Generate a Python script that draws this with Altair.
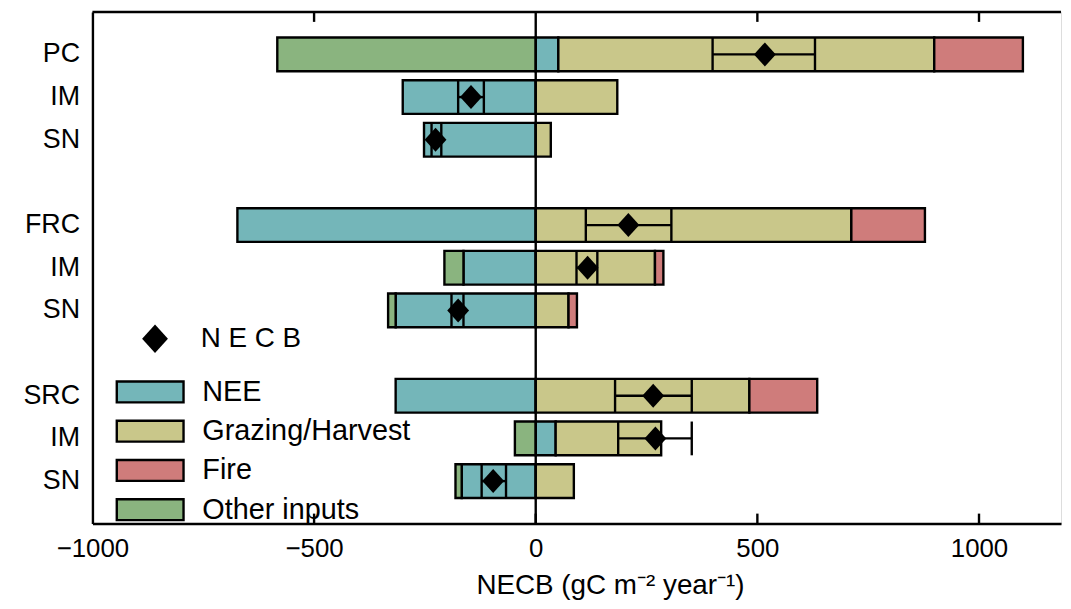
import altair as alt
import pandas as pd

# ---- data ----
row_ids = ["PC", "IM_1", "SN_1", "FRC", "IM_2", "SN_2", "SRC", "IM_3", "SN_3"]
y_domain = ["PC", "IM_1", "SN_1", "gap_1", "FRC", "IM_2", "SN_2", "gap_2", "SRC", "IM_3", "SN_3"]
categories = ["NEE", "Grazing/Harvest", "Fire", "Other inputs"]
colors = ["#74b6b9", "#c9c78a", "#cf7c7b", "#8ab47f"]

nee = [51, -300, -252, -673, -163, -316, -316, 45, -167]
grazing = [848, 184, 34, 712, 269, 74, 482, 238, 86]
fire = [200, 0, 0, 166, 19, 19, 153, 0, 0]
other = [-583, 0, 0, 0, -43, -17, 0, -47, -14]

necb = [517, -146, -226, 209, 117, -175, 265, 270, -96]
necb_lo = [399, -175, -235, 113, 92, -190, 179, 186, -122]
necb_hi = [630, -117, -213, 306, 139, -163, 352, 352, -67]

x_ticks = [-1000, -500, 0, 500, 1000]
bottom_inner_ticks = [-500, 0, 500, 1000]
top_inner_ticks = [-500, 500, 1000]

# ---- tables ----
records = []
for i, r in enumerate(row_ids):
    for k, (cat, vals) in enumerate(zip(categories, [nee, grazing, fire, other])):
        if vals[i] != 0:
            records.append(dict(row=r, cat=cat, value=vals[i], order=k))
bars_df = pd.DataFrame(records)
necb_df = pd.DataFrame(dict(row=row_ids, necb=necb, lo=necb_lo, hi=necb_hi, series="NECB"))
bt_df = pd.DataFrame(dict(t=bottom_inner_ticks))
tt_df = pd.DataFrame(dict(t=top_inner_ticks))
zero_df = pd.DataFrame(dict(t=[0]))

W, H = 975, 515
FONT = "Liberation Sans"
LW = 2.4

xs = alt.Scale(domain=[-1000, 1185], nice=False, zero=False)
ys = alt.Scale(domain=y_domain, paddingInner=0.21, paddingOuter=0.6)

y_axis = alt.Axis(
    labelExpr="slice(datum.value,0,3)=='gap' ? '' : split(datum.value,'_')[0]",
    ticks=False, domainColor="black", domainWidth=LW, labelFontSize=27,
    labelFont=FONT, labelPadding=13, title=None, minExtent=85,
    maxExtent=85, grid=False, labelColor="black",
)
x_axis = alt.Axis(
    values=x_ticks, format="d", ticks=False, labelFontSize=26, labelPadding=12, labelFlush=False,
    domainColor="black", domainWidth=LW, grid=False, title="NECB (gC m\u207b\u00b2 year\u207b\u00b9)",
    titleFontSize=28, titleFontWeight="normal", titleX=521, titlePadding=10,
    labelColor="black", titleColor="black", labelFont=FONT, titleFont=FONT,
)

bars = alt.Chart(bars_df).mark_bar(stroke="black", strokeWidth=LW).encode(
    x=alt.X("value:Q", stack="zero", scale=xs, axis=x_axis),
    y=alt.Y("row:N", scale=ys, axis=y_axis),
    color=alt.Color(
        "cat:N",
        scale=alt.Scale(domain=categories, range=colors),
        legend=alt.Legend(
            title=None, orient="none", legendX=43.6, legendY=368,
            symbolType="M-3.2,-1H3.2V1H-3.2Z", symbolSize=441,
            symbolStrokeColor="black", symbolStrokeWidth=LW, symbolOpacity=1,
            labelFontSize=29, labelOffset=38, rowPadding=8.5, padding=0,
            labelColor="black", labelFont=FONT, labelLimit=0,
        ),
    ),
    order=alt.Order("order:Q"),
)

zero_line = alt.Chart(zero_df).mark_rule(color="black", strokeWidth=LW).encode(x=alt.X("t:Q", scale=xs))
top_line = alt.Chart(zero_df).mark_rule(color="black", strokeWidth=LW).encode(y=alt.value(0))

err_line = alt.Chart(necb_df).mark_rule(color="black", strokeWidth=LW).encode(
    x=alt.X("lo:Q", scale=xs), x2="hi:Q", y=alt.Y("row:N", scale=ys)
)
cap_lo = alt.Chart(necb_df).mark_tick(orient="vertical", size=34, thickness=LW, color="black", opacity=1).encode(
    x=alt.X("lo:Q", scale=xs), y=alt.Y("row:N", scale=ys)
)
cap_hi = alt.Chart(necb_df).mark_tick(orient="vertical", size=34, thickness=LW, color="black", opacity=1).encode(
    x=alt.X("hi:Q", scale=xs), y=alt.Y("row:N", scale=ys)
)
diamond_path = "M0,-1.1L1,0L0,1.1L-1,0Z"
points = alt.Chart(necb_df).mark_point(filled=True, color="black", opacity=1, size=484).encode(
    x=alt.X("necb:Q", scale=xs),
    y=alt.Y("row:N", scale=ys),
    shape=alt.Shape(
        "series:N",
        scale=alt.Scale(domain=["NECB"], range=[diamond_path]),
        legend=alt.Legend(
            title=None, orient="none", legendX=49, legendY=315, symbolSize=676,
            symbolFillColor="black", symbolStrokeColor="black", symbolOpacity=1,
            labelFontSize=28, labelOffset=32, labelExpr="'N E C B'", padding=0,
            labelColor="black", labelFont=FONT,
        ),
    ),
)

bottom_ticks = alt.Chart(bt_df).mark_rule(color="black", strokeWidth=LW).encode(
    x=alt.X("t:Q", scale=xs), y=alt.value(H - 10), y2=alt.value(H)
)
top_ticks = alt.Chart(tt_df).mark_rule(color="black", strokeWidth=LW).encode(
    x=alt.X("t:Q", scale=xs), y=alt.value(0), y2=alt.value(10)
)

chart = alt.layer(
    bars, zero_line, top_line, err_line, cap_lo, cap_hi, points, bottom_ticks, top_ticks
).properties(
    width=W, height=H, padding={"left": 0, "top": 0, "right": 0, "bottom": 0}
).configure_view(stroke=None).configure(background="white")

chart.save("out.html", embed_options={"renderer": "svg", "actions": False})
